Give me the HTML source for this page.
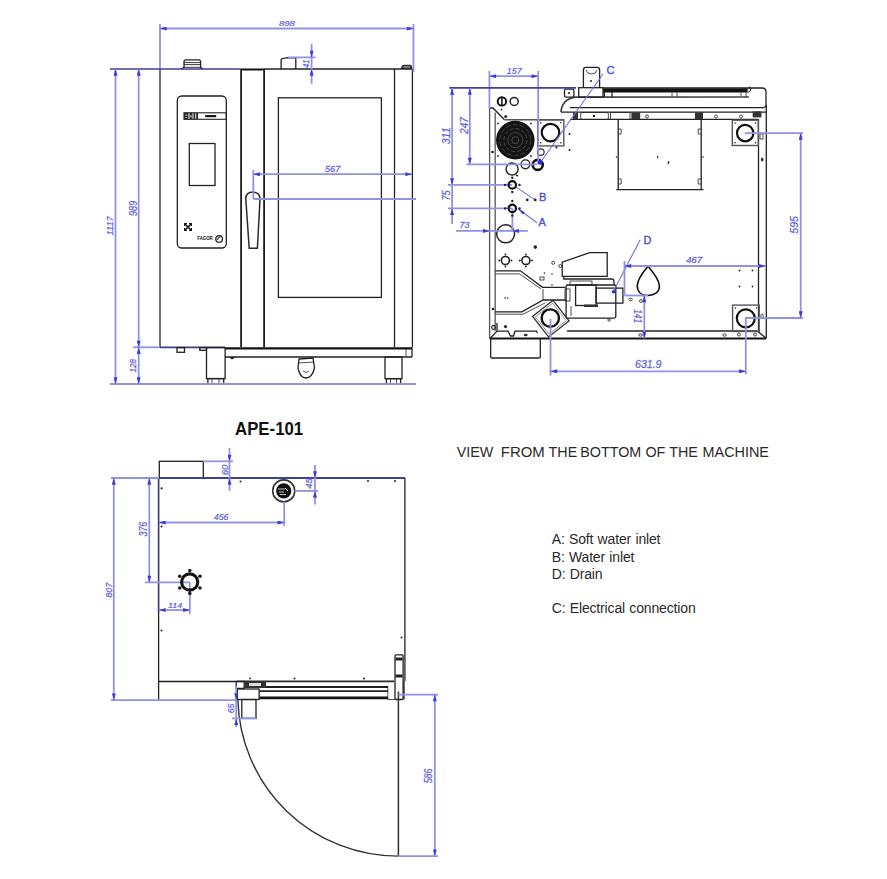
<!DOCTYPE html>
<html><head><meta charset="utf-8">
<style>
html,body{margin:0;padding:0;background:#fff;}
body{width:887px;height:879px;overflow:hidden;position:relative;font-family:"Liberation Sans",sans-serif;}
svg{position:absolute;left:0;top:0;}
.k{fill:none;stroke:#222;stroke-width:1.3;}
.kt{fill:none;stroke:#222;stroke-width:0.8;}
.kg{fill:none;stroke:#555;stroke-width:1.3;}
.b{fill:none;stroke:#9292e4;stroke-width:1.8;}
.dt{font-family:"Liberation Sans",sans-serif;font-style:italic;font-size:10px;fill:#4a4ae2;}
.lt{font-family:"Liberation Sans",sans-serif;font-size:14.3px;fill:#2a2a2a;}
.lg{font-family:"Liberation Sans",sans-serif;font-size:14px;fill:#2a2a2a;letter-spacing:-0.15px;word-spacing:0.6px;}
.dt2{font-family:"Liberation Sans",sans-serif;font-style:italic;font-size:10.8px;fill:#4a4ae2;}
.bt{fill:none;stroke:#7070e0;stroke-width:1.1;}
.dtx{font-family:"Liberation Sans",sans-serif;font-style:italic;fill:#5858e0;stroke:#7070e0;stroke-width:0.25;}
.bl{font-family:"Liberation Sans",sans-serif;font-size:11px;fill:#4a4ae2;stroke:#4a4ae2;stroke-width:0.35;}
.dot{fill:#222;}
</style></head>
<body>
<svg width="887" height="879" viewBox="0 0 887 879">
<defs>
<marker id="a" viewBox="0 0 10 6" refX="10" refY="3" markerWidth="8" markerHeight="4" orient="auto-start-reverse" markerUnits="userSpaceOnUse"><path d="M0,0 L10,3 L0,6 z" fill="#3a3ae2"/></marker>
</defs>

<!-- ================= FRONT VIEW ================= -->
<g id="front">
<!-- cabinet left -->
<path class="k" d="M160,69 L160,347"/>
<path d="M241.1,69 L241.1,347 M264.1,69 L264.1,347" stroke="#1e1e1e" stroke-width="1.8" fill="none"/>
<!-- knobs on top -->
<path class="k" d="M181.5,69 L184,67.4 L184,61.7 Q184,59.8 186,59.8 L198.6,59.8 Q200.6,59.8 200.6,61.7 L200.6,67.4 L203,69"/>
<path d="M184,62.6 H200.6 M184,64.6 H200.6 M184,67.3 H200.6" stroke="#222" stroke-width="0.9" fill="none"/>
<path class="k" d="M281.1,69 L281.1,60.3 Q281.1,58.4 283.5,58.3 L288,57.6 L295.8,57.8 L295.8,69"/>
<path d="M400.5,69 L402,65.5 Q402.5,64.7 404,64.7 L410,64.7 Q411.5,64.7 412,66 L412.4,69 Z" fill="#333"/>
<line x1="403.5" y1="67" x2="410" y2="67" stroke="#ccc" stroke-width="1"/>
<!-- control panel -->
<rect class="k" x="177.3" y="96" width="49" height="152" rx="4.5"/>
<rect x="184" y="112.8" width="42.3" height="6.5" fill="none" stroke="#222" stroke-width="1.1"/>
<path d="M184,112.5 h4.5 v7 h-4.5 z M189.5,112.5 h3 v7 h-3z M193.5,112.5 h1.8 v7 h-1.8z M196.2,112.5 h1.8 v7 h-1.8z" fill="#2a2a2a"/>
<path d="M185.3,114.5 h2 v1.3 h-2z M185.3,117 h2 v1 h-2z M190.3,115 h1.4 v2.5 h-1.4z" fill="#aaa"/>
<rect x="205.2" y="115" width="11" height="2.2" fill="#1a1a1a"/>
<rect class="k" x="189.3" y="143.5" width="25.7" height="42"/>
<path d="M185,224 L191,230 M191,224 L185,230" stroke="#1a1a1a" stroke-width="1.6"/>
<path d="M184.6,226 V223.6 H187 M189,223.6 H191.4 V226 M191.4,228 V230.4 H189 M187,230.4 H184.6 V228" fill="none" stroke="#1a1a1a" stroke-width="1.2"/>
<text x="197.3" y="240.3" style="font-family:'Liberation Sans',sans-serif;font-weight:bold;font-size:5px;fill:#111" textLength="15.4" lengthAdjust="spacingAndGlyphs">FAGOR</text>
<circle cx="219.1" cy="238.9" r="3.3" fill="none" stroke="#222" stroke-width="1.3"/>
<path d="M217.5,240 Q218,237 220.5,236.8" fill="none" stroke="#222" stroke-width="1.1"/>
<!-- door frame -->

<line x1="241" y1="69.5" x2="264" y2="69.5" stroke="#111" stroke-width="2"/>
<!-- handle -->
<path d="M245.8,199 Q245.8,192.1 252.9,192.1 Q260,192.1 260,199 L257.4,248.3 L249.2,248.3 Z" fill="none" stroke="#2a2a2a" stroke-width="1.5"/>
<!-- door body -->
<rect class="k" x="278.4" y="97.8" width="103" height="199.6"/>
<path class="k" d="M394.5,69 L394.5,347 M412.4,69 L412.4,347"/>
<line x1="264" y1="69" x2="412.4" y2="69" stroke="#222" stroke-width="1.4"/>
<!-- base -->
<line x1="225" y1="348.3" x2="412" y2="348.3" stroke="#111" stroke-width="2.2"/>
<line x1="160" y1="347.4" x2="225" y2="347.4" stroke="#3e3e8c" stroke-width="1.6"/>
<line class="k" x1="225" y1="357" x2="412" y2="357"/>
<line class="k" x1="412" y1="347" x2="412" y2="357"/>
<line class="kt" x1="406" y1="349" x2="406" y2="357"/>
<path d="M229,357 L232,359.5 L236,357" fill="#222"/>
<rect class="k" x="177" y="347.6" width="7.5" height="4.7"/>
<rect class="k" x="199.8" y="347.6" width="6.7" height="2.7"/>
<rect class="k" x="206.5" y="347.6" width="18.6" height="31"/>
<rect class="k" x="207.9" y="378.6" width="15.8" height="5.2"/>
<line class="kt" x1="212" y1="378.6" x2="212" y2="383.8"/><line class="kt" x1="219" y1="378.6" x2="219" y2="383.8"/>
<rect class="k" x="385" y="357" width="17" height="21.7"/>
<rect class="k" x="386.4" y="378.6" width="14.2" height="5.2"/>
<line class="kt" x1="390.5" y1="378.6" x2="390.5" y2="383.8"/><line class="kt" x1="396.5" y1="378.6" x2="396.5" y2="383.8"/>
<path class="k" d="M299,359 L313,358 L314.5,368 Q312,378 306,378 Q300,378 298,368 Z"/>
<path class="kt" d="M299,363 L314,362 M303,371 Q306,374 309,371"/>
</g>

<!-- front view dimensions -->
<g id="frontdim">
<line class="b" x1="160" y1="24" x2="160" y2="69"/>
<line class="b" x1="413.5" y1="24" x2="413.5" y2="72"/>
<line class="b" x1="160" y1="28.5" x2="413.5" y2="28.5" marker-start="url(#a)" marker-end="url(#a)"/>

<line x1="110" y1="69" x2="241" y2="69" stroke="#3e3e96" stroke-width="1.7"/>
<line class="b" x1="110" y1="384" x2="416" y2="384"/>
<line class="b" x1="133" y1="347.3" x2="160" y2="347.3"/>
<line class="b" x1="115.5" y1="69" x2="115.5" y2="384" marker-start="url(#a)" marker-end="url(#a)"/>
<line class="b" x1="138.7" y1="69" x2="138.7" y2="347.3" marker-start="url(#a)" marker-end="url(#a)"/>
<line class="b" x1="138.7" y1="347.3" x2="138.7" y2="384" marker-start="url(#a)" marker-end="url(#a)"/>

<line class="b" x1="288" y1="57.4" x2="315.4" y2="57.4"/>
<line class="b" x1="311.6" y1="44" x2="311.6" y2="57.4" marker-end="url(#a)"/>
<line class="b" x1="311.6" y1="83.8" x2="311.6" y2="69" marker-end="url(#a)"/>
<line class="b" x1="311.6" y1="57.4" x2="311.6" y2="69"/>

<line class="b" x1="253.3" y1="170" x2="253.3" y2="199"/>
<line class="b" x1="253.3" y1="174.2" x2="412" y2="174.2" marker-start="url(#a)" marker-end="url(#a)"/>
<line class="b" x1="253.3" y1="199" x2="416" y2="199"/>
</g>

<!-- APE-101 -->
<text x="235.1" y="435.3" textLength="68" lengthAdjust="spacingAndGlyphs" style="font-family:'Liberation Sans',sans-serif;font-weight:bold;font-size:18.2px;fill:#111">APE-101</text>

<!-- VIEW text + legend -->
<g class="lt">
<text class="lt" x="456.7" y="457">VIEW</text>
<text class="lt" x="500.8" y="457" textLength="44" lengthAdjust="spacingAndGlyphs">FROM</text>
<text class="lt" x="548.6" y="457">THE</text>
<text class="lt" x="580.3" y="457">BOTTOM</text>
<text class="lt" x="645.4" y="457">OF</text>
<text class="lt" x="669.3" y="457">THE</text>
<text class="lt" x="702.5" y="457" textLength="66.5" lengthAdjust="spacingAndGlyphs">MACHINE</text>
</g>
<text class="lg" x="551.7" y="544.3">A: Soft water inlet</text>
<text class="lg" x="551.7" y="561.7">B: Water inlet</text>
<text class="lg" x="551.7" y="578.7">D: Drain</text>
<text class="lg" x="551.7" y="613">C: Electrical connection</text>

<!-- ================= BOTTOM VIEW (top-right) ================= -->
<g id="bottomview">
<!-- outline -->
<path class="kg" d="M489.6,108 L489.6,338.4"/>
<path class="kg" d="M495.2,112.6 L495.2,331"/>
<path d="M489.6,108 L493,108 L504.5,119.8" fill="none" stroke="#222" stroke-width="1.3"/>
<line x1="504.5" y1="119.8" x2="563" y2="119.8" stroke="#555" stroke-width="1.6"/>
<line x1="489.6" y1="338.4" x2="766" y2="338.4" stroke="#111" stroke-width="2"/>
<path class="k" d="M766.3,105 L766.3,338.4"/>
<path class="k" d="M758.5,119 L758.5,331"/>
<path class="k" d="M497,331.1 L508,331.1 L510.5,336 L513.5,336 L515,331.1 L536.4,331.1 L537.5,333"/>
<path class="k" d="M490.5,338 L497,331.1 L497,323"/>
<circle cx="493.5" cy="327.5" r="1.8" fill="none" stroke="#222" stroke-width="1.2"/>
<path class="k" d="M567,331 L757,331"/>
<path class="k" d="M757,331 L766,338"/>
<!-- rails top -->
<rect x="603" y="88.4" width="144.6" height="4.1" fill="#111"/>

<path class="kt" d="M741,92.5 L741,96.5 M746,92.5 L746,97 M672,92.5 L672,96.5 M677,92.5 L677,96.5"/>
<path class="k" d="M603,88 L762,88 Q766,88 766,92 L766,105 Q766,107.7 762,107.7 L570,107.7"/>
<path d="M561,112 Q562,99.5 575,97.2 L749,97" fill="none" stroke="#444" stroke-width="1.7"/>
<path d="M747.6,88.4 Q749,88 750.5,86.5 M747.6,92.5 Q751,92 751,88" fill="none" stroke="#222" stroke-width="1"/>
<path class="k" d="M604.4,92 L604.4,97 M612,92 L612,97"/>
<line class="k" x1="561" y1="112.1" x2="766" y2="112.1"/>
<line class="k" x1="570" y1="119.3" x2="758" y2="119.3"/>
<!-- small boxes between 112 and 119 -->
<rect class="kt" x="580.7" y="112.5" width="27.7" height="7" rx="1.5"/>
<circle cx="594" cy="116" r="1.2" class="dot"/>
<rect class="kt" x="610.5" y="112.5" width="19.5" height="7"/>
<rect x="631.4" y="112.3" width="8.8" height="7" fill="#333"/>
<rect x="573" y="112.3" width="5" height="7" fill="#333"/>
<rect x="695" y="112.3" width="8" height="7" fill="#333"/>
<rect x="752.7" y="111.4" width="8.7" height="6" fill="#333"/>
<circle cx="647" cy="116.5" r="1.5" class="kt"/>
<circle cx="716" cy="116.5" r="1.5" class="kt"/>
<circle cx="741" cy="116.5" r="1.5" class="kt"/>
<!-- left small box -->
<rect class="k" x="564.5" y="89.1" width="9.4" height="8.1" rx="1.5"/>
<circle cx="569" cy="93" r="1" class="dot"/>
<!-- C plug -->
<path class="k" d="M583.4,87.7 L583.4,70 Q583.4,67.4 586,67.4 L597,67.4 Q599.6,67.4 599.6,70 L599.6,87.7"/>
<path class="kt" d="M586,70 Q587,74 591.5,74 Q596,74 597,70"/>
<circle cx="591" cy="81" r="1" class="dot"/>
<rect class="k" x="578.7" y="87.7" width="24.3" height="9.5"/>
<!-- left top box circles -->
<circle cx="501.9" cy="101.4" r="4.2" fill="none" stroke="#111" stroke-width="2"/>
<line x1="501.9" y1="97.4" x2="501.9" y2="105.4" stroke="#111" stroke-width="1.5"/>
<circle cx="514.2" cy="101.4" r="4" fill="none" stroke="#222" stroke-width="1.5"/>
<circle cx="501.5" cy="109.6" r="0.9" class="dot"/>
<circle cx="505.7" cy="116.5" r="1.6" fill="#333"/>
<!-- fan -->
<circle cx="515.3" cy="140.1" r="19.3" fill="#141414"/>
<g fill="none" stroke="#4a4a4a" stroke-width="0.9">
<circle cx="515.3" cy="140.1" r="15.5" stroke-dasharray="5 2"/>
<circle cx="515.3" cy="140.1" r="11.5" stroke-dasharray="4 2"/>
<circle cx="515.3" cy="140.1" r="7.5"/>
<circle cx="515.3" cy="140.1" r="3.5" stroke="#555"/>
</g>
<circle cx="498" cy="123.5" r="0.9" class="dot"/><circle cx="531" cy="123.5" r="0.9" class="dot"/>
<circle cx="498" cy="156" r="0.9" class="dot"/><circle cx="531" cy="156" r="0.9" class="dot"/>
<circle cx="492.5" cy="152" r="1.3" class="dot"/>
<!-- square w circle (top left foot) -->
<rect x="537.7" y="119.8" width="26.1" height="26.1" fill="none" stroke="#555" stroke-width="1.4"/>
<circle cx="550.5" cy="132.6" r="8.8" fill="none" stroke="#111" stroke-width="2.2"/>
<circle cx="540.8" cy="122.8" r="0.8" class="dot"/><circle cx="560.8" cy="122.8" r="0.8" class="dot"/>
<circle cx="540.8" cy="142.8" r="0.8" class="dot"/><circle cx="560.8" cy="142.8" r="0.8" class="dot"/>
<circle cx="556.5" cy="147.5" r="1" class="dot"/>
<circle cx="569.5" cy="134" r="1" class="dot"/><circle cx="569.5" cy="150" r="1" class="dot"/>
<!-- plate -->
<path class="k" d="M618.2,119.3 L618.2,189.7 M701.2,119.3 L701.2,189.7 M616.3,189.7 L703.5,189.7"/>
<path class="kt" d="M618.2,129 h3 v5 h-3 M618.2,179 h3 v5 h-3 M701.2,129 h-3 v5 h3 M701.2,179 h-3 v5 h3"/>
<circle cx="616.5" cy="157" r="0.8" class="dot"/><circle cx="703" cy="157" r="0.8" class="dot"/>
<path d="M658,156 q-1,1 0,2 M669,161 l-1,3" stroke="#222" stroke-width="1.2" fill="none"/>
<!-- top-right foot -->
<rect x="732.3" y="120.2" width="26" height="25.3" fill="none" stroke="#555" stroke-width="1.4"/>
<circle cx="745.2" cy="133.1" r="8.2" fill="none" stroke="#111" stroke-width="2.2"/>
<circle cx="735" cy="123" r="0.8" class="dot"/><circle cx="755.5" cy="123" r="0.8" class="dot"/>
<circle cx="735" cy="142.8" r="0.8" class="dot"/><circle cx="755.5" cy="142.8" r="0.8" class="dot"/>
<rect class="kt" x="760" y="134" width="3" height="5"/>
<ellipse cx="762.2" cy="159.5" rx="1.3" ry="2" fill="#333"/>
<!-- bottom-right foot -->
<rect x="732.6" y="305.1" width="26.6" height="26.4" fill="none" stroke="#555" stroke-width="1.4"/>
<circle cx="745.8" cy="318.3" r="9" fill="none" stroke="#111" stroke-width="2.2"/>
<circle cx="735.5" cy="308" r="0.8" class="dot"/><circle cx="756.5" cy="308" r="0.8" class="dot"/>
<circle cx="739" cy="334.5" r="1.5" class="kt"/><circle cx="755" cy="334.5" r="1.5" class="kt"/>
<ellipse cx="762" cy="316" rx="1.2" ry="2" class="kt"/>
<circle cx="739.5" cy="270.5" r="0.9" class="dot"/><circle cx="752.5" cy="270.5" r="0.9" class="dot"/>
<circle cx="739.5" cy="286.5" r="0.9" class="dot"/><circle cx="752.5" cy="286.5" r="0.9" class="dot"/>
<ellipse cx="724.5" cy="335" rx="1.8" ry="1.2" class="kt"/>
<ellipse cx="640.5" cy="335" rx="1.8" ry="1.2" class="kt"/>
<ellipse cx="525.7" cy="335" rx="2" ry="1.3" fill="#333"/>
<!-- bottom-left foot (rotated) -->
<g transform="translate(550.8,318.7) rotate(52)">
<rect x="-13" y="-13" width="26" height="26" fill="none" stroke="#333" stroke-width="1.3"/>
<rect x="-11" y="-11" width="22" height="22" fill="none" stroke="#555" stroke-width="0.6"/>
</g>
<circle cx="550.3" cy="318.1" r="8.7" fill="none" stroke="#111" stroke-width="2.4"/>
<!-- fittings upper -->
<circle cx="540.8" cy="152.1" r="3.3" fill="none" stroke="#333" stroke-width="1.2"/>
<circle cx="537.7" cy="164.9" r="5" fill="none" stroke="#111" stroke-width="2.6"/>
<circle cx="525.4" cy="164.3" r="4.4" fill="none" stroke="#222" stroke-width="1.4"/>
<circle cx="512.1" cy="169" r="6" fill="none" stroke="#222" stroke-width="1.4"/>
<path d="M516,175 l2,1" stroke="#222" stroke-width="1.4"/>
<!-- big circle + lower fittings -->
<circle cx="505.6" cy="233.8" r="9" fill="none" stroke="#222" stroke-width="1.5"/>
<circle cx="535.3" cy="247.1" r="1.8" class="dot"/>
<g fill="none" stroke="#222" stroke-width="1.6">
<circle cx="505.4" cy="260.5" r="4"/>
<circle cx="525.9" cy="260.5" r="4"/>
</g>
<g class="dot">
<circle cx="505.4" cy="254.5" r="0.9"/><circle cx="505.4" cy="266.5" r="0.9"/><circle cx="499.3" cy="260.5" r="0.9"/><circle cx="511.5" cy="260.5" r="0.9"/>
<circle cx="525.9" cy="254.5" r="0.9"/><circle cx="525.9" cy="266.5" r="0.9"/><circle cx="519.8" cy="260.5" r="0.9"/><circle cx="532" cy="260.5" r="0.9"/>
<circle cx="544.5" cy="273" r="0.8"/><circle cx="552" cy="274" r="0.8"/><circle cx="552" cy="285" r="0.8"/>
<circle cx="505" cy="298" r="0.8"/><circle cx="507.5" cy="298" r="0.8"/>
<circle cx="505.5" cy="326.5" r="1.6"/>
<circle cx="493" cy="309" r="1.3"/>
</g>
<circle cx="553.2" cy="262.9" r="1.5" class="kt"/>
<circle cx="560.3" cy="266" r="1.5" class="kt"/>
<rect x="540" y="277" width="4" height="3" class="kt"/>
<!-- channel -->
<path class="k" d="M495.2,270.8 L520.4,270.8 L542.5,287.3 L565.3,287.3"/>
<path class="kt" d="M495.2,273.9 L519.6,273.9 L540.9,288.9"/>
<path class="k" d="M495.2,311.8 L521.9,311.8 L543.2,300 L565.3,300"/>
<path class="kt" d="M495.2,314.2 L523,314.2 L545,303"/>
<path class="kt" d="M543,289 L543,300"/>
<!-- bottom box below -->
<path class="k" d="M490.7,338.4 L490.7,357 Q490.7,358 492,358 L539,358 Q540.3,358 540.3,357 L540.3,338.4"/>
<!-- drain unit -->
<path class="k" d="M562.2,276.3 L562.2,262.1 L589.8,252.6 L607.2,252.6 L607.2,276.3 Z"/>
<path class="k" d="M563.8,276.3 L563.8,279 L612,279 Q614,279 614,282 L614,285"/>
<rect class="k" x="566.1" y="285" width="49.7" height="33.1" rx="1.5"/>
<rect class="k" x="575.6" y="285" width="20.5" height="20.5"/>
<rect x="584" y="304.5" width="14" height="2.5" fill="#333"/>
<rect class="k" x="596.1" y="288.1" width="26.8" height="15"/>
<rect class="kt" x="565" y="289" width="5" height="12"/>
<rect class="kt" x="570" y="281" width="22" height="4"/>
<line class="kt" x1="571" y1="306" x2="571" y2="316"/>
<circle cx="609" cy="320" r="1.2" class="kt"/>
<!-- drop shape -->
<path d="M648.1,266.2 C643,272 637.3,280 637.3,286 C637.3,292.5 642,295.5 648.1,295.5 C654,295.5 659.4,292.5 659.4,286 C659.4,280 653,272 648.1,266.2 Z" fill="none" stroke="#111" stroke-width="1.6"/>
<ellipse cx="630.5" cy="299.5" rx="1.8" ry="1.3" class="kt"/>
<ellipse cx="641" cy="301" rx="1.5" ry="1.5" class="kt"/>
</g>

<!-- bottom view dimensions -->
<g id="bvdim">
<line class="b" x1="489.4" y1="71" x2="489.4" y2="109"/>
<line class="b" x1="538.2" y1="71" x2="538.2" y2="164.4"/>
<line class="b" x1="489.4" y1="76.2" x2="538.2" y2="76.2" marker-start="url(#a)" marker-end="url(#a)"/>

<line x1="449.3" y1="87.8" x2="576" y2="87.8" stroke="#3e3e9c" stroke-width="1.7"/>
<line class="b" x1="452.1" y1="88" x2="452.1" y2="184.9" marker-start="url(#a)" marker-end="url(#a)"/>
<line class="b" x1="469.8" y1="88" x2="469.8" y2="164.4" marker-start="url(#a)" marker-end="url(#a)"/>
<line class="b" x1="466.4" y1="164.4" x2="537" y2="164.4"/>

<line class="b" x1="448" y1="184.9" x2="512.3" y2="184.9"/>
<line class="b" x1="448" y1="208.4" x2="512.3" y2="208.4"/>

<line class="b" x1="452.1" y1="224" x2="452.1" y2="208.4" marker-end="url(#a)"/>
<line class="b" x1="452.1" y1="184.9" x2="452.1" y2="208.4"/>

<line class="b" x1="456" y1="230.9" x2="489.6" y2="230.9" marker-end="url(#a)"/>
<line class="b" x1="527.8" y1="230.9" x2="512.3" y2="230.9" marker-end="url(#a)"/>
<line class="b" x1="489.6" y1="230.9" x2="512.3" y2="230.9"/>
<line class="b" x1="512.4" y1="208.4" x2="512.4" y2="232"/>

<!-- leaders -->
<line class="bt" x1="535.2" y1="199.9" x2="515.7" y2="186.9"/>
<circle cx="535.2" cy="199.9" r="1.4" class="dot"/>
<line class="bt" x1="536.9" y1="222.8" x2="518.1" y2="208.8"/>
<path d="M518.3,209 L524.6,212.3 L523,214.4 z" fill="#2a2ae0"/>
<text class="bl" x="538.9" y="201.3">B</text>
<text class="bl" x="538.4" y="225.9">A</text>
<line class="bt" x1="603" y1="74" x2="540" y2="163"/>
<circle cx="540" cy="162.5" r="2.2" fill="#2a2ae6"/>
<text class="bl" x="606.5" y="74">C</text>
<line class="bt" x1="640.2" y1="239.8" x2="613.2" y2="291.7"/>
<circle cx="613.5" cy="291.8" r="1.8" fill="#2a2ae6"/>
<text class="bl" x="643.5" y="244">D</text>

<line class="b" x1="745" y1="133.1" x2="803" y2="133.1"/>
<line class="b" x1="745" y1="318" x2="803" y2="318"/>
<line class="b" x1="800.7" y1="133.1" x2="800.7" y2="318" marker-start="url(#a)" marker-end="url(#a)"/>

<line class="b" x1="624.5" y1="261" x2="624.5" y2="295.5"/>
<line class="b" x1="624.5" y1="266" x2="765.6" y2="266" marker-start="url(#a)" marker-end="url(#a)"/>
<line class="b" x1="624.5" y1="295.5" x2="648" y2="295.5"/>
<line class="b" x1="644.3" y1="295.5" x2="644.3" y2="338.4" marker-start="url(#a)" marker-end="url(#a)"/>

<line class="b" x1="550.5" y1="319" x2="550.5" y2="375.6"/>
<line class="b" x1="745.8" y1="318" x2="745.8" y2="374"/>
<line class="b" x1="550.5" y1="371.3" x2="745.8" y2="371.3" marker-start="url(#a)" marker-end="url(#a)"/>
</g>

<!-- ================= TOP VIEW (bottom-left) ================= -->
<g id="topview">
<rect class="k" x="159.3" y="461.3" width="44" height="16.7"/>
<line x1="159" y1="478" x2="405" y2="478" stroke="#40409a" stroke-width="1.8"/>
<line x1="158.6" y1="478" x2="158.6" y2="614" stroke="#33337a" stroke-width="1.6"/>
<line class="k" x1="158.6" y1="614" x2="158.6" y2="700"/>
<line class="k" x1="404.9" y1="478" x2="404.9" y2="681"/>
<line class="k" x1="404" y1="681" x2="404" y2="699.5"/>
<line class="k" x1="158.8" y1="681.5" x2="237" y2="681.5"/>
<g class="dot">
<circle cx="161.6" cy="488.3" r="1.1"/><circle cx="161.5" cy="526.5" r="1"/><circle cx="161.5" cy="630.5" r="1"/>
<circle cx="240.5" cy="481.5" r="1"/><circle cx="368" cy="481" r="1"/><circle cx="395" cy="481" r="1"/>
<circle cx="401.5" cy="637.5" r="1"/><circle cx="281" cy="489" r="0.8"/>
</g>
<!-- round fitting -->
<circle cx="283.7" cy="490.9" r="11" fill="none" stroke="#333" stroke-width="1.6"/>
<circle cx="283.7" cy="490.9" r="7.6" fill="#111"/>
<path d="M278,489 h7 M279,492 h5 M280,494.5 h6 M285,488 l3,3" stroke="#ddd" stroke-width="0.9"/>
<!-- door rails -->
<line x1="237" y1="681.4" x2="394" y2="681.4" stroke="#2a2a2a" stroke-width="1.8"/>
<line x1="265" y1="686.9" x2="388" y2="686.9" stroke="#222" stroke-width="2"/>
<line x1="259.5" y1="691.1" x2="388" y2="691.1" stroke="#222" stroke-width="1.6"/>
<line x1="259.5" y1="697.9" x2="388" y2="697.9" stroke="#111" stroke-width="2.6"/>
<path d="M244.7,681.5 L266,681.5 L266,688 L244.7,688 Z" fill="#333"/>
<rect x="249" y="683" width="12" height="3" fill="#ddd"/>
<rect class="k" x="236.2" y="681.5" width="8" height="6.9" fill="#fff"/>
<rect class="k" x="237.4" y="689" width="21.7" height="10.5" fill="#fff"/>
<rect class="k" x="241.8" y="699.5" width="14.2" height="18.9"/>
<path class="kt" d="M387.8,686 L387.8,699.5 L395,699.5"/>
<rect class="k" x="395" y="654.9" width="8.1" height="44.6" rx="1"/>
<rect x="395.5" y="657.5" width="7" height="3" fill="#222"/>
<rect x="395.5" y="674.5" width="7" height="3" fill="#222"/>
<circle cx="250" cy="678.4" r="0.9" class="dot"/><circle cx="294.5" cy="678.4" r="1" class="dot"/><circle cx="364" cy="678.5" r="1" class="dot"/>
<!-- door swing -->
<path d="M237.9,700 A160.1,160.1 0 0 0 398,856.1" fill="none" stroke="#333" stroke-width="1.4"/>
<line x1="398.4" y1="691.5" x2="398.4" y2="856.1" stroke="#333" stroke-width="1.5"/>
</g>

<!-- top view dims -->
<g id="tvdim">
<line class="b" x1="111" y1="478" x2="159" y2="478"/>
<line class="b" x1="111" y1="700.1" x2="237" y2="700.1"/>
<line class="b" x1="113.8" y1="478" x2="113.8" y2="700.1" marker-start="url(#a)" marker-end="url(#a)"/>
<line class="b" x1="145" y1="582.3" x2="189.8" y2="582.3"/>
<line class="b" x1="189.8" y1="582.3" x2="189.8" y2="614"/>
<line class="b" x1="149.3" y1="478" x2="149.3" y2="582.3" marker-start="url(#a)" marker-end="url(#a)"/>
<line class="b" x1="203" y1="461.3" x2="233" y2="461.3"/>
<line class="b" x1="229.5" y1="448" x2="229.5" y2="461.3" marker-end="url(#a)"/>
<line class="b" x1="229.5" y1="491" x2="229.5" y2="478" marker-end="url(#a)"/>
<line class="b" x1="229.5" y1="461.3" x2="229.5" y2="478"/>
<line class="b" x1="294.8" y1="490.9" x2="318" y2="490.9"/>
<line class="b" x1="315" y1="465" x2="315" y2="478" marker-end="url(#a)"/>
<line class="b" x1="315" y1="504.5" x2="315" y2="490.9" marker-end="url(#a)"/>
<line class="b" x1="315" y1="478" x2="315" y2="490.9"/>
<line class="b" x1="284.2" y1="501.8" x2="284.2" y2="526"/>
<line class="b" x1="159" y1="522.5" x2="284.2" y2="522.5" marker-start="url(#a)" marker-end="url(#a)"/>
<line class="b" x1="159" y1="610" x2="189.8" y2="610" marker-start="url(#a)" marker-end="url(#a)"/>
<line class="b" x1="236.2" y1="686" x2="236.2" y2="700" marker-end="url(#a)"/>
<line class="b" x1="236.2" y1="727" x2="236.2" y2="718.4" marker-end="url(#a)"/>
<line class="b" x1="236.2" y1="700" x2="236.2" y2="718.4"/>
<line class="b" x1="232" y1="718.4" x2="256" y2="718.4"/>
<line class="b" x1="398.4" y1="694.6" x2="438" y2="694.6"/>
<line class="b" x1="398.4" y1="856.1" x2="438" y2="856.1"/>
<line class="b" x1="434.8" y1="694.6" x2="434.8" y2="856.1" marker-start="url(#a)" marker-end="url(#a)"/>
</g>
<g id="dimtext">
<text class="dtx" font-size="8.03" transform="translate(278.90,26.12) scale(1.178,1)">898</text>
<text class="dtx" font-size="9.86" transform="translate(325.00,172.00) scale(0.931,1)">567</text>
<text class="dtx" font-size="9.13" transform="translate(113.00,235.60) rotate(-90) scale(1.023,1)">1117</text>
<text class="dtx" font-size="10.14" transform="translate(136.50,215.90) rotate(-90) scale(0.892,1)">989</text>
<text class="dtx" font-size="9.72" transform="translate(136.20,372.50) rotate(-90) scale(0.838,1)">128</text>
<text class="dtx" font-size="8.84" transform="translate(309.30,68.10) rotate(-90) scale(0.876,1)">41</text>
<text class="dtx" font-size="9.43" transform="translate(506.80,73.71) scale(0.942,1)">157</text>
<text class="dtx" font-size="10.99" transform="translate(449.59,144.30) rotate(-90) scale(0.968,1)">311</text>
<text class="dtx" font-size="10.29" transform="translate(467.60,134.00) rotate(-90) scale(0.989,1)">247</text>
<text class="dtx" font-size="11.43" transform="translate(449.69,200.50) rotate(-90) scale(0.805,1)">75</text>
<text class="dtx" font-size="9.30" transform="translate(459.50,228.31) scale(0.969,1)">73</text>
<text class="dtx" font-size="11.41" transform="translate(798.19,233.70) rotate(-90) scale(0.924,1)">595</text>
<text class="dtx" font-size="9.01" transform="translate(685.90,263.01) scale(1.090,1)">467</text>
<text class="dtx" font-size="11.30" transform="translate(633.90,309.20) rotate(90) scale(0.742,1)">141</text>
<text class="dtx" font-size="10.00" transform="translate(635.00,368.30) scale(1.060,1)">631.9</text>
<text class="dtx" font-size="9.44" transform="translate(112.01,597.80) rotate(-90) scale(0.960,1)">807</text>
<text class="dtx" font-size="10.14" transform="translate(147.30,536.50) rotate(-90) scale(0.874,1)">376</text>
<text class="dtx" font-size="8.45" transform="translate(227.82,475.30) rotate(-90) scale(1.141,1)">60</text>
<text class="dtx" font-size="9.43" transform="translate(312.31,488.80) rotate(-90) scale(1.013,1)">45</text>
<text class="dtx" font-size="8.31" transform="translate(213.80,519.82) scale(1.059,1)">456</text>
<text class="dtx" font-size="7.83" transform="translate(168.00,607.80) scale(1.141,1)">114</text>
<text class="dtx" font-size="9.58" transform="translate(233.50,713.30) rotate(-90) scale(0.923,1)">65</text>
<text class="dtx" font-size="10.00" transform="translate(432.40,783.30) rotate(-90) scale(0.874,1)">586</text>
</g>
<g id="ontop">
<!-- hex fitting -->
<circle cx="189.7" cy="582" r="8.1" fill="none" stroke="#111" stroke-width="3.1"/>
<g class="dot">
<circle cx="189.8" cy="570.6" r="1.8"/><circle cx="200" cy="576.3" r="1.8"/><circle cx="200" cy="588" r="1.8"/>
<circle cx="189.8" cy="593.4" r="1.8"/><circle cx="179.7" cy="588" r="1.8"/><circle cx="179.7" cy="576.3" r="1.8"/>
</g>
<!-- B / A fittings -->
<g fill="none" stroke="#111" stroke-width="2.2">
<circle cx="512.3" cy="184.9" r="3.7"/>
<circle cx="512.3" cy="208.4" r="3.7"/>
</g>
<g class="dot">
<circle cx="512.3" cy="177.7" r="1.2"/><circle cx="512.3" cy="192" r="1.2"/><circle cx="505.1" cy="184.9" r="1.2"/><circle cx="519.5" cy="184.9" r="1.2"/>
<circle cx="512.3" cy="201" r="1.2"/><circle cx="512.3" cy="215.6" r="1.2"/><circle cx="505.1" cy="208.4" r="1.2"/><circle cx="519.5" cy="208.4" r="1.2"/>
<circle cx="527.3" cy="199.9" r="1.3"/>
</g>
</g>
</svg>
</body></html>
